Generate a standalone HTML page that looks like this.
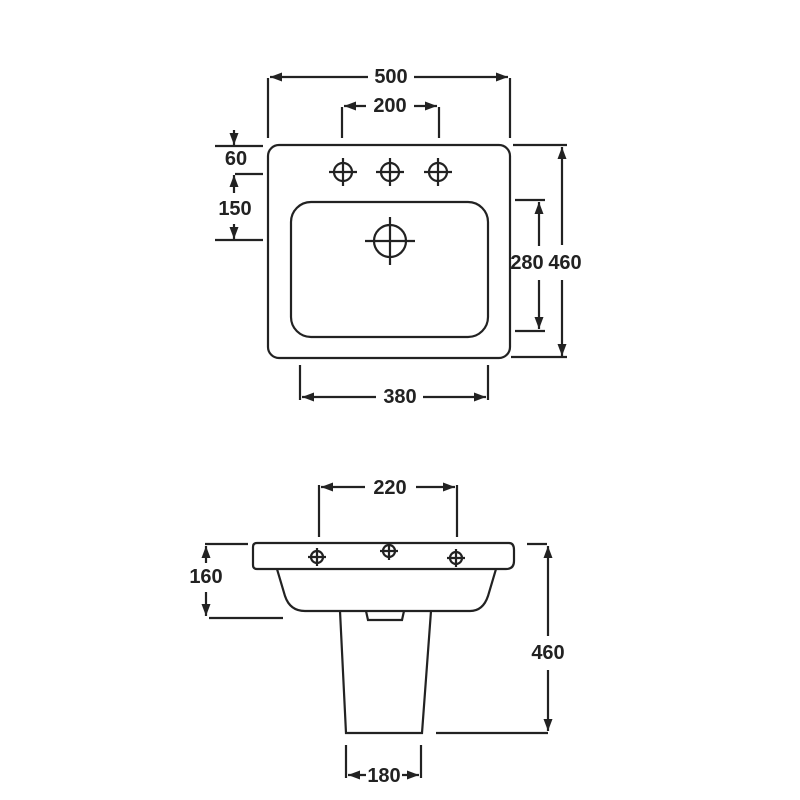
<!DOCTYPE html>
<html><head><style>body{margin:0;background:#fff}svg{display:block}</style></head><body>
<svg width="800" height="800" viewBox="0 0 800 800" xmlns="http://www.w3.org/2000/svg">
<defs>
<marker id="a" markerWidth="12" markerHeight="9" refX="12" refY="4.5" orient="auto-start-reverse" markerUnits="userSpaceOnUse"><path d="M0,0 L12,4.5 L0,9 Z" fill="#222"/></marker>
</defs>
<g stroke="#222" stroke-width="2.2" fill="none">
<rect x="268" y="145" width="242" height="213" rx="11"/>
<rect x="291" y="202" width="197" height="135" rx="20"/>
<circle cx="343" cy="172" r="9"/><path d="M329,172h28M343,158v28"/>
<circle cx="390" cy="172" r="9"/><path d="M376,172h28M390,158v28"/>
<circle cx="438" cy="172" r="9"/><path d="M424,172h28M438,158v28"/>
<circle cx="390" cy="241" r="16"/><path d="M365,241h50M390,217v48"/>
<path d="M268,78v60M510,78v60M342,107v31M439,107v31"/>
<path d="M270,77h98M414,77h94" marker-start="url(#a)" marker-end="url(#a)"/>
<path d="M344,106h22M414,106h23" marker-start="url(#a)" marker-end="url(#a)"/>
<path d="M215,146h48M235,174h28M215,240h48"/>
<path d="M234,130v15" marker-end="url(#a)"/>
<path d="M234,175v18" marker-start="url(#a)"/>
<path d="M234,224v15" marker-end="url(#a)"/>
<path d="M513,145h54M511,357h56M515,200h30M515,331h30"/>
<path d="M562,147v98M562,280v76" marker-start="url(#a)" marker-end="url(#a)"/>
<path d="M539,202v44M539,280v49" marker-start="url(#a)" marker-end="url(#a)"/>
<path d="M300,365v35M488,365v35"/>
<path d="M302,397h74M423,397h63" marker-start="url(#a)" marker-end="url(#a)"/>
<path d="M257,543H509Q514,543 514,550V561Q514,569 506,569H257Q253,569 253,565V547Q253,543 257,543Z"/>
<path d="M277,569L285,596Q290,611 305,611H470Q483,611 488,596L496,569"/>
<path d="M340,611L346,733H422L431,611"/>
<path d="M366,611L368,620H402L404,611"/>
<circle cx="317" cy="557" r="6"/><path d="M308,557h18M317,548v18"/>
<circle cx="389" cy="551" r="6"/><path d="M380,551h18M389,542v18"/>
<circle cx="456" cy="558" r="6"/><path d="M447,558h18M456,549v18"/>
<path d="M319,485v52M457,485v52"/>
<path d="M321,487h44M416,487h39" marker-start="url(#a)" marker-end="url(#a)"/>
<path d="M205,544h43M209,618h74"/>
<path d="M206,546v17M206,592v24" marker-start="url(#a)" marker-end="url(#a)"/>
<path d="M527,544h20M436,733h112"/>
<path d="M548,546v90M548,670v61" marker-start="url(#a)" marker-end="url(#a)"/>
<path d="M346,745v33M421,745v33"/>
<path d="M348,775h18M402,775h17" marker-start="url(#a)" marker-end="url(#a)"/>
</g>
<g font-family="Liberation Sans, sans-serif" font-weight="bold" font-size="20" fill="#222" text-anchor="middle" dominant-baseline="central">
<text x="391" y="77">500</text>
<text x="390" y="106">200</text>
<text x="236" y="159">60</text>
<text x="235" y="209">150</text>
<text x="527" y="263">280</text>
<text x="565" y="263">460</text>
<text x="400" y="397">380</text>
<text x="390" y="488">220</text>
<text x="206" y="577">160</text>
<text x="548" y="653">460</text>
<text x="384" y="776">180</text>
</g>
</svg>
</body></html>
